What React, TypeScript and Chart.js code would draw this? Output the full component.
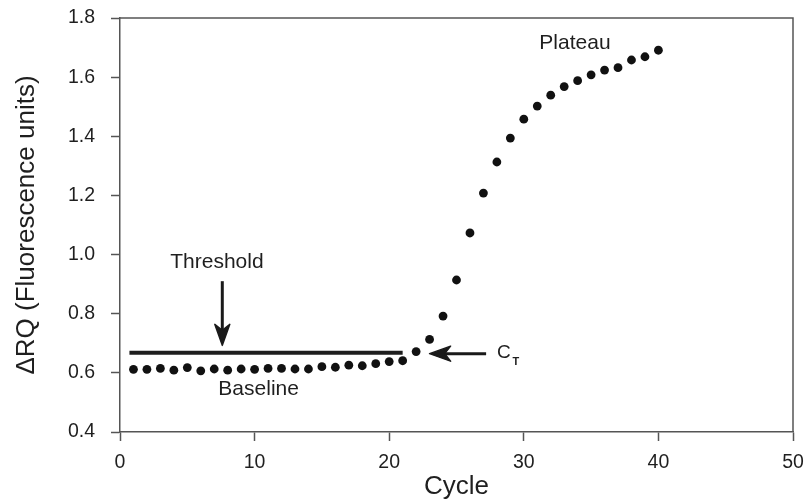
import React, { useEffect, useRef } from "react";
import { Chart, registerables } from "chart.js";

Chart.register(...registerables);

// ---- data ----
const cycles = [
  1, 2, 3, 4, 5, 6, 7, 8, 9, 10, 11, 12, 13, 14, 15, 16, 17, 18, 19, 20,
  21, 22, 23, 24, 25, 26, 27, 28, 29, 30, 31, 32, 33, 34, 35, 36, 37, 38, 39, 40,
];
const deltaRQ = [
  0.612, 0.612, 0.615, 0.609, 0.618, 0.607, 0.613, 0.609, 0.613, 0.612,
  0.615, 0.615, 0.613, 0.613, 0.621, 0.619, 0.626, 0.624, 0.631, 0.638,
  0.641, 0.672, 0.713, 0.792, 0.914, 1.073, 1.208, 1.313, 1.394, 1.458,
  1.502, 1.539, 1.568, 1.588, 1.608, 1.624, 1.632, 1.658, 1.669, 1.691,
];
const thresholdValue = 0.668;
const thresholdCycles = [0.7, 21];
const xTickValues = [0, 10, 20, 30, 40, 50];
const yTickValues = [0.4, 0.6, 0.8, 1.0, 1.2, 1.4, 1.6, 1.8];

// annotation anchors (data units)
const thresholdLabel = { text: "Threshold", x: 7.2, y: 0.975 };
const thresholdArrow = { x: 7.6, yFrom: 0.91, yTo: 0.693 };
const baselineLabel = { text: "Baseline", x: 10.3, y: 0.545 };
const plateauLabel = { text: "Plateau", x: 33.8, y: 1.715 };
const ctArrow = { xFrom: 27.2, xTo: 23.0, y: 0.665 };
const ctLabel = { x: 28.0, y: 0.667 };

const FONT = '"Liberation Sans", Arial, Helvetica, sans-serif';
const TEXT = "#1f1f1f";
const AXIS = "#555";

function drawArrow(ctx: CanvasRenderingContext2D, x1: number, y1: number, x2: number, y2: number) {
  const ang = Math.atan2(y2 - y1, x2 - x1);
  const L = 21;
  const w = 7.5;
  ctx.save();
  ctx.strokeStyle = "#1a1a1a";
  ctx.fillStyle = "#1a1a1a";
  ctx.lineWidth = 3;
  ctx.beginPath();
  ctx.moveTo(x1, y1);
  ctx.lineTo(x2 - Math.cos(ang) * 12, y2 - Math.sin(ang) * 12);
  ctx.stroke();
  ctx.translate(x2, y2);
  ctx.rotate(ang);
  ctx.beginPath();
  ctx.moveTo(0, 0);
  ctx.lineTo(-L, -w);
  ctx.lineTo(-L * 0.72, 0);
  ctx.lineTo(-L, w);
  ctx.closePath();
  ctx.fill();
  ctx.lineWidth = 1.5;
  ctx.lineJoin = "round";
  ctx.stroke();
  ctx.restore();
}

const annotationPlugin = {
  id: "qpcrAnnotations",
  afterDatasetsDraw(chart: any) {
    const { ctx, chartArea, scales } = chart;
    const xs = scales.x;
    const ys = scales.y;
    ctx.save();
    // top and right frame
    ctx.strokeStyle = AXIS;
    ctx.lineWidth = 1.5;
    ctx.beginPath();
    ctx.moveTo(chartArea.left, chartArea.top);
    ctx.lineTo(chartArea.right, chartArea.top);
    ctx.lineTo(chartArea.right, chartArea.bottom);
    ctx.stroke();

    ctx.fillStyle = TEXT;
    ctx.font = `21px ${FONT}`;
    ctx.textAlign = "center";
    ctx.textBaseline = "middle";
    for (const l of [thresholdLabel, baselineLabel, plateauLabel]) {
      ctx.fillText(l.text, xs.getPixelForValue(l.x), ys.getPixelForValue(l.y));
    }

    drawArrow(
      ctx,
      xs.getPixelForValue(thresholdArrow.x),
      ys.getPixelForValue(thresholdArrow.yFrom),
      xs.getPixelForValue(thresholdArrow.x),
      ys.getPixelForValue(thresholdArrow.yTo)
    );
    drawArrow(
      ctx,
      xs.getPixelForValue(ctArrow.xFrom),
      ys.getPixelForValue(ctArrow.y),
      xs.getPixelForValue(ctArrow.xTo),
      ys.getPixelForValue(ctArrow.y)
    );

    const cx = xs.getPixelForValue(ctLabel.x);
    const cy = ys.getPixelForValue(ctLabel.y);
    ctx.textAlign = "left";
    ctx.fillStyle = TEXT;
    ctx.font = `19px ${FONT}`;
    ctx.fillText("C", cx, cy);
    const cw = ctx.measureText("C").width;
    ctx.font = `bold 11px ${FONT}`;
    ctx.fillText("T", cx + cw + 2, cy + 9);
    ctx.restore();
  },
};

export default function App() {
  const ref = useRef<HTMLCanvasElement | null>(null);

  useEffect(() => {
    document.body.style.margin = "0";
    const canvas = ref.current;
    if (!canvas) return;
    const chart = new Chart(canvas, {
      type: "scatter",
      data: {
        datasets: [
          {
            type: "line",
            data: thresholdCycles.map((c) => ({ x: c, y: thresholdValue })),
            borderColor: "#1e1e1e",
            borderWidth: 4,
            pointRadius: 0,
            fill: false,
          },
          {
            type: "scatter",
            data: cycles.map((c, i) => ({ x: c, y: deltaRQ[i] })),
            backgroundColor: "#111",
            borderWidth: 0,
            pointRadius: 4.4,
          },
        ],
      },
      options: {
        animation: false,
        responsive: false,
        events: [],
        layout: { padding: { left: 0, right: 12, top: 18, bottom: 0 } },
        plugins: {
          legend: { display: false },
          tooltip: { enabled: false },
        },
        scales: {
          x: {
            type: "linear",
            min: 0,
            max: 50,
            afterFit: (s: any) => {
              s.height = 67;
              s.paddingLeft = 0;
              s.paddingRight = 0;
            },
            afterBuildTicks: (s: any) => {
              s.ticks = xTickValues.map((v) => ({ value: v }));
            },
            border: { display: true, color: AXIS, width: 1.5 },
            grid: {
              drawOnChartArea: false,
              drawTicks: true,
              tickLength: 9,
              tickWidth: 1.5,
              tickColor: AXIS,
            },
            ticks: {
              padding: 10,
              color: TEXT,
              font: { family: FONT, size: 19.5 },
              maxRotation: 0,
              callback: (v: any) => String(v),
            },
            title: {
              display: true,
              text: "Cycle",
              color: TEXT,
              font: { family: FONT, size: 26, lineHeight: 1 },
              padding: { top: 0, bottom: -1 },
            },
          },
          y: {
            type: "linear",
            min: 0.4,
            max: 1.8,
            afterFit: (s: any) => {
              s.width = 120;
              s.paddingTop = 0;
              s.paddingBottom = 0;
            },
            afterBuildTicks: (s: any) => {
              s.ticks = yTickValues.map((v) => ({ value: v }));
            },
            border: { display: true, color: AXIS, width: 1.5 },
            grid: {
              drawOnChartArea: false,
              drawTicks: true,
              tickLength: 9,
              tickWidth: 1.5,
              tickColor: AXIS,
            },
            ticks: {
              padding: 16,
              color: TEXT,
              font: { family: FONT, size: 19.5 },
              callback: (v: any) => Number(v).toFixed(1),
            },
            title: {
              display: true,
              text: "ΔRQ (Fluorescence units)",
              color: TEXT,
              font: { family: FONT, size: 26, lineHeight: 1 },
              padding: { top: 14, bottom: 0 },
            },
          },
        },
      },
      plugins: [annotationPlugin],
    } as any);
    return () => chart.destroy();
  }, []);

  return (
    <div style={{ width: 805, height: 499, background: "#fff" }}>
      <canvas ref={ref} width={805} height={499} style={{ display: "block" }} />
    </div>
  );
}
